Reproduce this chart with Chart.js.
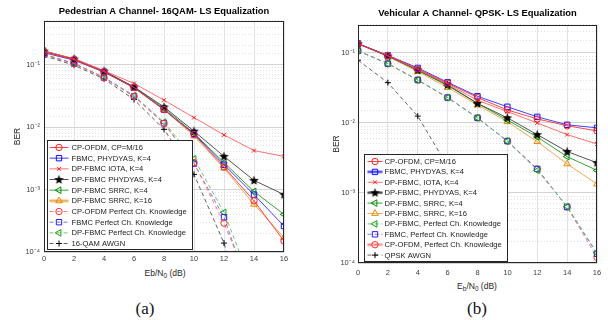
<!DOCTYPE html>
<html lang="en">
<head>
    <meta charset="UTF-8">
    <title>BER comparison - LS equalization</title>
    <script src="https://cdn.jsdelivr.net/npm/chart.js"></script>
    <style>
        body {
            margin: 0;
            width: 608px;
            height: 320px;
            overflow: hidden;
            background: #fff;
            font-family: "Liberation Sans", Arial, sans-serif;
        }
        .panel { position: absolute; top: 0; }
        .xtitle {
            position: absolute;
            font-size: 8.5px;
            color: #262626;
            transform: translate(-50%, -50%);
            white-space: nowrap;
        }
        .xtitle sub { font-size: 6.5px; vertical-align: -2px; }
        .caption {
            position: absolute;
            font-family: "Liberation Serif", "Times New Roman", serif;
            font-size: 17px;
            color: #111;
            transform: translate(-50%, -50%);
        }
    </style>
</head>
<body>
    <canvas id="ped" class="panel" style="left:0" width="304" height="266"></canvas>
    <canvas id="veh" class="panel" style="left:304px" width="304" height="279"></canvas>
    <div class="xtitle" style="left:165px; top:273px">Eb/N<sub>0</sub> (dB)</div>
    <div class="xtitle" style="left:477px; top:286px">E<sub>b</sub>/N<sub>0</sub> (dB)</div>
    <div class="caption" style="left:145px; top:309px">(a)</div>
    <div class="caption" style="left:477px; top:309px">(b)</div>
    <script>
        // Eb/N0 points (dB)
        const ebn0 = [0, 2, 4, 6, 8, 10, 12, 14, 16];

        // (a) Pedestrian A, 16QAM, LS equalization
        const pedCpOfdm   = [0.160, 0.120, 0.077, 0.043, 0.019, 0.0076, 0.0023, 0.00066, 0.00015];
        const pedFbmc     = [0.155, 0.118, 0.076, 0.043, 0.019, 0.0078, 0.0025, 0.00083, 0.00026];
        const pedIota     = [0.165, 0.125, 0.080, 0.050, 0.027, 0.0142, 0.0075, 0.0042, 0.0034];
        const pedPhydyas  = [0.165, 0.123, 0.079, 0.044, 0.021, 0.0086, 0.0034, 0.0014, 0.00083];
        const pedSrrc4    = [0.165, 0.122, 0.078, 0.044, 0.020, 0.0080, 0.0027, 0.00093, 0.00040];
        const pedSrrc16   = [0.163, 0.121, 0.077, 0.042, 0.019, 0.0072, 0.0022, 0.00058, 0.00017];
        const pedCpPerf   = [0.145, 0.104, 0.062, 0.031, 0.0115, 0.0027, 0.00029, 0.00002];
        const pedFbmcPerf = [0.145, 0.104, 0.062, 0.031, 0.0115, 0.0026, 0.00036, 0.000015];
        const pedDpPerf   = [0.147, 0.105, 0.063, 0.032, 0.0120, 0.0031, 0.00043, 0.000025];
        const pedAwgn     = [0.139, 0.098, 0.059, 0.0276, 0.0092, 0.00175, 0.000139, 0.0000027];
        const pedLabels = [
            'CP-OFDM, CP=M/16', 'FBMC, PHYDYAS, K=4', 'DP-FBMC IOTA, K=4',
            'DP-FBMC PHYDYAS, K=4', 'DP-FBMC SRRC, K=4', 'DP-FBMC SRRC, K=16',
            'CP-OFDM Perfect Ch. Knowledge', 'FBMC Perfect Ch. Knowledge',
            'DP-FBMC Perfect Ch. Knowledge', '16-QAM AWGN'
        ];

        // (b) Vehicular A, QPSK, LS equalization
        const vehCpOfdm   = [0.135, 0.091, 0.059, 0.037, 0.023, 0.0153, 0.0114, 0.0091, 0.0077];
        const vehFbmc     = [0.136, 0.092, 0.061, 0.038, 0.024, 0.0170, 0.0122, 0.0094, 0.0085];
        const vehIota     = [0.135, 0.091, 0.058, 0.036, 0.021, 0.0145, 0.0100, 0.0068, 0.0050];
        const vehPhydyas  = [0.135, 0.090, 0.057, 0.035, 0.019, 0.0118, 0.0068, 0.0039, 0.0027];
        const vehSrrc4    = [0.135, 0.090, 0.056, 0.034, 0.019, 0.0110, 0.0063, 0.0033, 0.0021];
        const vehSrrc16   = [0.134, 0.089, 0.054, 0.032, 0.018, 0.0104, 0.0054, 0.0026, 0.00134];
        const vehDpPerf   = [0.107, 0.070, 0.041, 0.023, 0.0118, 0.0055, 0.0021, 0.00064, 0.00014];
        const vehFbmcPerf = [0.107, 0.070, 0.041, 0.023, 0.0118, 0.0055, 0.0022, 0.00063, 0.000135];
        const vehCpPerf   = [0.107, 0.070, 0.041, 0.023, 0.0118, 0.0055, 0.0022, 0.00063, 0.00012];
        const vehAwgn     = [0.0786, 0.0375, 0.0125, 0.0024, 0.00019, 0.0000039];
        const vehLabels = [
            'CP-OFDM, CP=M/16', 'FBMC, PHYDYAS, K=4', 'DP-FBMC, IOTA, K=4',
            'DP-FBMC, PHYDYAS, K=4', 'DP-FBMC, SRRC, K=4', 'DP-FBMC, SRRC, K=16',
            'DP-FBMC, Perfect Ch. Knowledge', 'FBMC, Perfect Ch. Knowledge',
            'CP-OFDM, Perfect Ch. Knowledge', 'QPSK AWGN'
        ];

        // filled pentagram marker (MATLAB 'p')
        const star = document.createElement('canvas');
        star.width = 11; star.height = 11;
        (function () {
            const c = star.getContext('2d');
            c.beginPath();
            for (let i = 0; i < 10; i++) {
                const r = i % 2 ? 2.1 : 5;
                const a = -Math.PI / 2 + i * Math.PI / 5;
                c.lineTo(5.5 + r * Math.cos(a), 5.8 + r * Math.sin(a));
            }
            c.closePath();
            c.fillStyle = '#000';
            c.fill();
        })();

        // line/marker styles
        const S = {
            cp:     { color: '#ff2020', line: '#ff3030', pointStyle: 'circle', radius: 3.2 },
            fbmc:   { color: '#1010ff', line: '#2a2aff', pointStyle: 'rect', radius: 3.8 },
            iota:   { color: '#ff1a1a', line: '#ff6060', pointStyle: 'crossRot', radius: 2.8 },
            phy:    { color: '#000000', line: '#404040', pointStyle: star, radius: 5 },
            srrc4:  { color: '#008a00', line: '#1c9a1c', pointStyle: 'triangle', rotation: -90, radius: 3.8 },
            srrc16: { color: '#e88a00', line: '#f0a040', pointStyle: 'triangle', radius: 3.8 },
            cpP:    { color: '#ff3030', line: '#ff6a6a', pointStyle: 'circle', radius: 3.2, dash: [4, 3] },
            fbmcP:  { color: '#2020ff', line: '#6a6aff', pointStyle: 'rect', radius: 3.8, dash: [4, 3] },
            dpP:    { color: '#10a010', line: '#60c060', pointStyle: 'triangle', rotation: -90, radius: 3.8, dash: [4, 3] },
            awgn:   { color: '#000000', line: '#505050', pointStyle: 'cross', radius: 3, dash: [4, 3] }
        };

        function makeDataset(label, values, st, halo) {
            return {
                label: label,
                data: values.map((v, i) => ({ x: ebn0[i], y: v })),
                borderColor: st.line,
                borderWidth: 0.9,
                borderDash: st.dash || [],
                pointStyle: st.pointStyle,
                pointRotation: st.rotation || 0,
                pointRadius: st.radius,
                pointBorderColor: st.color,
                pointBackgroundColor: 'rgba(0,0,0,0)',
                pointBorderWidth: 1,
                tension: 0,
                halo: halo || null
            };
        }

        function sup(n) {
            const m = { '-': '\u207B', '0': '\u2070', '1': '\u00B9', '2': '\u00B2', '3': '\u00B3', '4': '\u2074', '5': '\u2075' };
            return String(n).split('').map(ch => m[ch]).join('');
        }
        function isPow10(v) {
            const e = Math.log10(v);
            return Math.abs(e - Math.round(e)) < 1e-6;
        }

        // box around the axes
        const frame = {
            id: 'frame',
            afterDatasetsDraw(chart) {
                const { ctx, chartArea: a } = chart;
                ctx.save();
                ctx.strokeStyle = '#262626';
                ctx.lineWidth = 1;
                ctx.strokeRect(Math.round(a.left) + 0.5, Math.round(a.top) + 0.5,
                    Math.round(a.right - a.left) - 1, Math.round(a.bottom - a.top) - 1);
                ctx.restore();
            }
        };

        // legend box drawn inside the plot area, lower left
        const insideLegend = {
            id: 'insideLegend',
            afterDatasetsDraw(chart, args, o) {
                const { ctx, chartArea: a } = chart;
                const x0 = Math.round(a.left + o.dx) + 0.5;
                const y0 = Math.round(a.bottom - o.dy - o.height) + 0.5;
                ctx.save();
                ctx.fillStyle = '#fff';
                ctx.fillRect(x0, y0, o.width, o.height);
                ctx.strokeStyle = '#262626';
                ctx.lineWidth = 1;
                ctx.strokeRect(x0, y0, o.width, o.height);
                ctx.font = o.fontSize + 'px "Liberation Sans", Arial, sans-serif';
                ctx.textBaseline = 'middle';
                chart.data.datasets.forEach((ds, i) => {
                    const y = y0 + o.first + i * o.rowH;
                    if (ds.halo) {
                        ctx.strokeStyle = ds.halo;
                        ctx.lineWidth = 3;
                        ctx.setLineDash([]);
                        ctx.beginPath();
                        ctx.moveTo(x0 + o.l0, y); ctx.lineTo(x0 + o.l1, y);
                        ctx.stroke();
                    }
                    ctx.strokeStyle = ds.borderColor;
                    ctx.lineWidth = ds.borderWidth;
                    ctx.setLineDash(ds.borderDash);
                    ctx.beginPath();
                    ctx.moveTo(x0 + o.l0, y); ctx.lineTo(x0 + o.l1, y);
                    ctx.stroke();
                    ctx.setLineDash([]);
                    ctx.strokeStyle = ds.pointBorderColor;
                    ctx.fillStyle = 'rgba(0,0,0,0)';
                    ctx.lineWidth = 1;
                    Chart.helpers.drawPoint(ctx, {
                        pointStyle: ds.pointStyle, rotation: ds.pointRotation,
                        radius: ds.pointRadius, borderWidth: 1
                    }, x0 + (o.l0 + o.l1) / 2, y);
                    ctx.fillStyle = '#1a1a1a';
                    ctx.fillText(ds.label, x0 + o.text, y + 0.5);
                });
                ctx.restore();
            }
        };

        function makeChart(id, title, datasets, cfg) {
            return new Chart(document.getElementById(id).getContext('2d'), {
                type: 'line',
                data: { datasets: datasets },
                options: {
                    responsive: false,
                    animation: false,
                    layout: { padding: { left: 0, right: cfg.padRight, top: 0, bottom: 0 } },
                    plugins: {
                        legend: { display: false },
                        tooltip: { enabled: false },
                        title: {
                            display: true,
                            text: title,
                            fullSize: false,
                            color: '#000',
                            font: { family: '"Liberation Sans", Arial', size: 9.4, weight: 'bold', lineHeight: 1.2 },
                            padding: cfg.titlePad
                        },
                        insideLegend: cfg.legend
                    },
                    scales: {
                        x: {
                            type: 'linear',
                            min: 0, max: 16,
                            ticks: { stepSize: 2, color: '#404040', padding: cfg.xTickPad,
                                font: { family: '"Liberation Sans", Arial', size: 7.5 } },
                            grid: { color: '#e2e2e2', drawTicks: false },
                            border: { display: false },
                            afterFit: s => { s.height = cfg.xHeight; }
                        },
                        y: {
                            type: 'logarithmic',
                            min: 1e-4, max: cfg.yMax,
                            ticks: {
                                autoSkip: false,
                                color: '#404040',
                                padding: cfg.yTickPad,
                                font: { family: '"Liberation Sans", Arial', size: 7.5 },
                                callback: v => isPow10(v) ? '10' + sup(Math.round(Math.log10(v))) : ''
                            },
                            grid: {
                                drawTicks: false,
                                color: c => c.tick && isPow10(c.tick.value) ? '#d4d4d4' : '#e0e0e0'
                            },
                            border: {
                                display: false,
                                dash: c => c.tick && !isPow10(c.tick.value) ? [1, 2] : []
                            },
                            title: {
                                display: true, text: 'BER', color: '#262626',
                                font: { family: '"Liberation Sans", Arial', size: 8.5 },
                                padding: cfg.yTitlePad
                            },
                            afterFit: s => { s.width = cfg.yWidth; }
                        }
                    }
                },
                plugins: [frame, insideLegend]
            });
        }

        const pedSeries = [pedCpOfdm, pedFbmc, pedIota, pedPhydyas, pedSrrc4, pedSrrc16, pedCpPerf, pedFbmcPerf, pedDpPerf, pedAwgn];
        const pedStyles = [S.cp, S.fbmc, S.iota, S.phy, S.srrc4, S.srrc16, S.cpP, S.fbmcP, S.dpP, S.awgn];
        const pedHalo = [null, null, null, null, null, '#f6c48c', null, null, null, null];
        makeChart('ped', 'Pedestrian A Channel- 16QAM- LS Equalization',
            pedSeries.map((s, i) => makeDataset(pedLabels[i], s, pedStyles[i], pedHalo[i])), {
                padRight: 20, titlePad: { top: 5.4, bottom: 4.3 }, yMax: 0.5,
                xHeight: 14, xTickPad: 2, yWidth: 44, yTickPad: 4, yTitlePad: { top: 13, bottom: 0 },
                legend: { dx: 3, dy: 3, width: 145, height: 109, first: 7, rowH: 10.67, l0: 2, l1: 21, text: 24, fontSize: 7.6 }
            });

        const vehSeries = [vehCpOfdm, vehFbmc, vehIota, vehPhydyas, vehSrrc4, vehSrrc16, vehDpPerf, vehFbmcPerf, vehCpPerf, vehAwgn];
        const vehStyles = [S.cp, S.fbmc, S.iota, S.phy, S.srrc4, S.srrc16, S.dpP, S.fbmcP, S.cpP, S.awgn];
        const vehHalo = [null, '#8c8cff', null, '#8a8a8a', null, null, null, null, '#ffb4b4', null];
        makeChart('veh', 'Vehicular A Channel- QPSK- LS Equalization',
            vehSeries.map((s, i) => makeDataset(vehLabels[i], s, vehStyles[i], vehHalo[i])), {
                padRight: 11, titlePad: { top: 7.4, bottom: 6.3 }, yMax: 0.25,
                xHeight: 16, xTickPad: 5, yWidth: 54, yTickPad: 3, yTitlePad: { top: 28, bottom: 0 },
                legend: { dx: 6, dy: 2, width: 143, height: 107, first: 7, rowH: 10.4, l0: 3, l1: 18, text: 20, fontSize: 7.6 }
            });
    </script>
</body>
</html>
